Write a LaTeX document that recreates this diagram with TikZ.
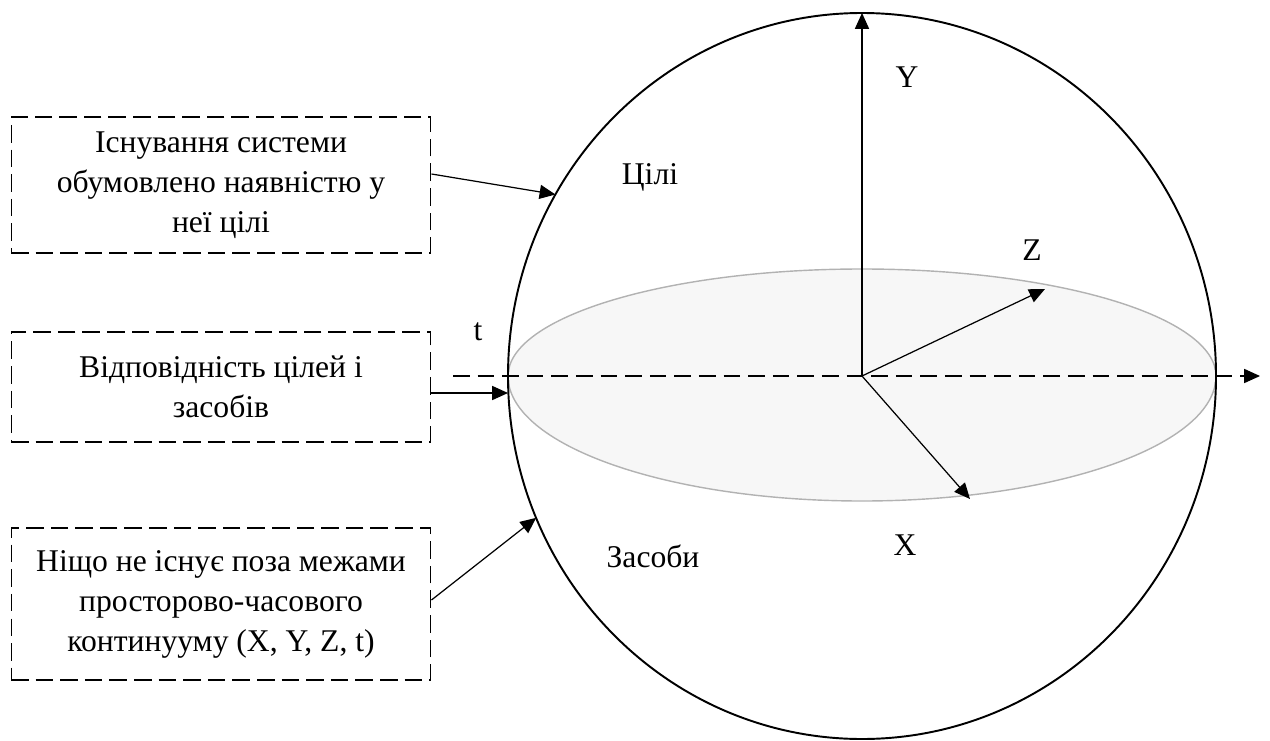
\documentclass[tikz,border=0pt]{standalone}
\usepackage{fontspec}
\setmainfont{Liberation Serif}
\usetikzlibrary{arrows.meta,calc}

\begin{document}
\begin{tikzpicture}[>={Triangle[length=9pt,width=8pt]}, x=0.02cm, y=0.02cm,
  font=\fontsize{18}{22.8}\selectfont,
  note/.style={draw, dash pattern=on 10pt off 4pt, line width=0.6pt,
    minimum width=8.4cm, align=center, inner sep=0pt},
  pointer/.style={->, line width=0.7pt}]
  \useasboundingbox (0,0) rectangle (1270,-740);
  \def\Rx{354}
  \def\Ry{363}
  \coordinate (O) at (862,-376);
  \coordinate (sph-n) at ($(O)+(90:{\Rx} and {\Ry})$);
  \coordinate (sph-w) at ($(O)+(180:{\Rx} and {\Ry})$);
  \coordinate (sph-a) at ($(O)+(150:{\Rx} and {\Ry})$);
  \coordinate (sph-b) at ($(O)+(203:{\Rx} and {\Ry})$);
  \coordinate (z-end) at (1045,-289);
  \coordinate (x-end) at (970,-499);
  \coordinate (t-beg) at (453,-376);
  \coordinate (t-end) at (1260,-376);
  \draw[gray!60, fill=black!3, line width=0.8pt] (sph-w)
    arc[start angle=180, end angle=0, x radius=\Rx, y radius=107]
    arc[start angle=0, end angle=-180, x radius=\Rx, y radius=125];
  \draw[line width=1.1pt] (O) ellipse[x radius=\Rx, y radius=\Ry];
  \draw[pointer, dash pattern=on 9.5pt off 4.5pt] (t-beg) -- (t-end);
  \draw[pointer] (O) -- (sph-n);
  \draw[pointer] (O) -- (z-end);
  \draw[pointer] (O) -- (x-end);
  \node (y-lab) at (907,-77) {Y};
  \node (z-lab) at (1032,-250) {Z};
  \node (x-lab) at (905,-545) {X};
  \node (t-lab) at (478,-332) {t};
  \node (goals) at (650,-177) {Цілі};
  \node (means) at (653,-556) {Засоби};
  \node[note, minimum height=2.72cm] (goal) at (221,-185)
    {Існування системи\\ обумовлено наявністю у\\ неї цілі};
  \node[note, minimum height=2.2cm] (match) at (221,-387)
    {Відповідність цілей і\\ засобів};
  \node[note, minimum height=3.04cm] (spacetime) at (221,-604)
    {Ніщо не існує поза межами\\ просторово-часового\\ континууму (X, Y, Z, t)};
  \coordinate (m-out) at ($(match.east)+(0,-6)$);
  \draw[pointer] ($(goal.east)+(0,11)$) -- (sph-a);
  \draw[pointer] (m-out) -- (m-out -| sph-w);
  \draw[pointer] ($(spacetime.east)+(0,4)$) -- (sph-b);
\end{tikzpicture}
\end{document}
